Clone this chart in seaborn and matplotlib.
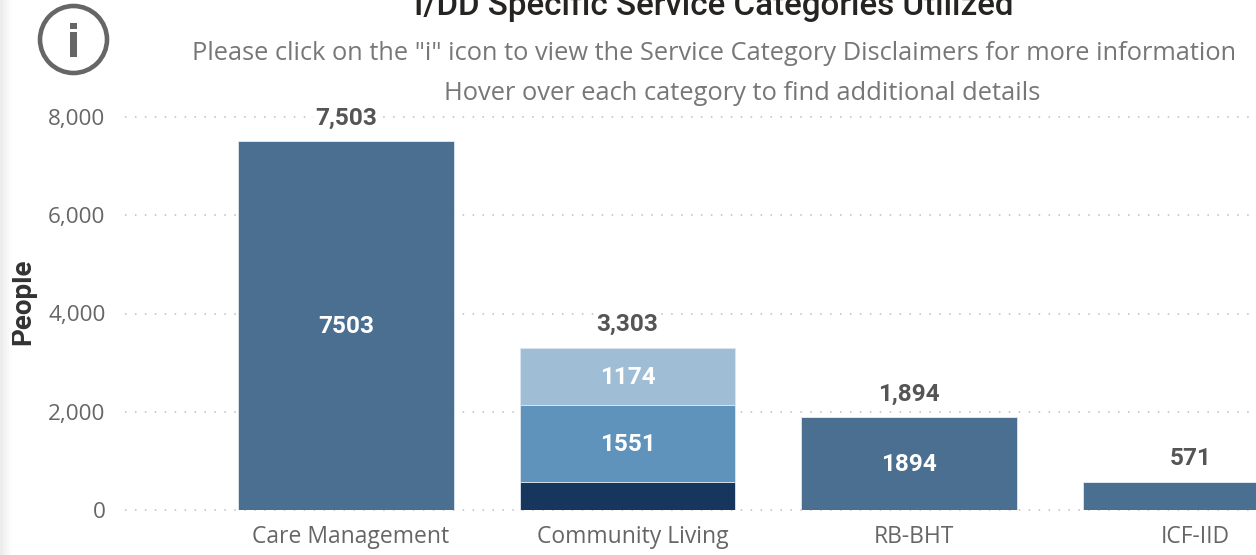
import matplotlib
matplotlib.use("Agg")
import matplotlib.pyplot as plt
from matplotlib.patches import Circle, Rectangle
from matplotlib.transforms import ScaledTranslation
import seaborn as sns

categories = ["Care Management", "Community Living", "RB-BHT", "ICF-IID"]
totals = [7503, 3303, 1894, 571]
seg_single = [7503, 0, 1894, 571]
seg_dark = [0, 578, 0, 0]
seg_mid = [0, 1551, 0, 0]
seg_light = [0, 1174, 0, 0]
yticks = [0, 2000, 4000, 6000, 8000]
title = "I/DD Specific Service Categories Utilized"
sub1 = 'Please click on the "i" icon to view the Service Category Disclaimers for more information'
sub2 = "Hover over each category to find additional details"

W, H = 1256, 555
sns.set_theme(style="white")
plt.rcParams["font.family"] = ["Open Sans", "DejaVu Sans"]
fig = plt.figure(figsize=(W / 100, H / 100), dpi=100)
fig.patch.set_facecolor("white")

L, R, T, B = 125, 1256, 117, 510
ax = fig.add_axes([L / W, 1 - B / H, (R - L) / W, (B - T) / H])
ax.patch.set_alpha(0)

C_SINGLE, C_DARK, C_MID, C_LIGHT = "#4A6F91", "#17365D", "#5F93BB", "#A0BDD6"
WIDTH = 0.767
bottom = [0, 0, 0, 0]
for vals, col in [(seg_single, C_SINGLE), (seg_dark, C_DARK), (seg_mid, C_MID), (seg_light, C_LIGHT)]:
    sns.barplot(x=categories, y=vals, order=categories, color=col, saturation=1,
                width=WIDTH, bottom=bottom, ax=ax, edgecolor="#DCE6EF", linewidth=0.6, zorder=3)
    for i, v in enumerate(vals):
        if v >= 1000:
            ax.annotate(str(v), (i, bottom[i] + v / 2), xytext=(0, -0.8), textcoords="offset points",
                        ha="center", va="center", color="white", fontsize=17.6,
                        fontweight="bold", family="Roboto", zorder=5)
    bottom = [b + v for b, v in zip(bottom, vals)]

ax.set_xlim((L - 346) / 281.5, (R - 346) / 281.5)
ax.set_ylim(0, 8000)
ax.set_yticks(yticks)
ax.set_yticklabels([f"{t:,}" for t in yticks])
ax.tick_params(axis="y", length=0, pad=14, labelsize=16.2, labelcolor="#666666")
ax.tick_params(axis="x", length=0, pad=10.7, labelsize=16.5, labelcolor="#666666")
shift = ScaledTranslation(5 / 100, 0, fig.dpi_scale_trans)
for lab in ax.get_xticklabels():
    lab.set_transform(lab.get_transform() + shift)
ax.grid(axis="y", color="#BDBDBD", linewidth=1.1, linestyle=(0, (1, 5.5)), zorder=0)
ax.set_axisbelow(True)
for s in ax.spines.values():
    s.set_visible(False)
for gl in ax.get_ygridlines():
    gl.set_clip_on(False)
ax.set_ylabel("")

for i, t in enumerate(totals):
    ax.annotate(f"{t:,}", (i, t), xytext=(0, 23 * 0.72), textcoords="offset points", ha="center", va="center",
                color="#555555", fontsize=17.6, fontweight="bold", family="Roboto", zorder=6,
                bbox=dict(facecolor="white", edgecolor="none", pad=1))

def px(x, y):
    return x / W, 1 - y / H

fig.text(*px(23, 302), "People", rotation=90, ha="center", va="center", color="#333333",
         fontsize=20, fontweight="bold", family="Roboto")
fig.text(*px(714, 6), title, ha="center", va="center", color="#252423", fontsize=23.9,
         fontweight="medium", family="Roboto")
fig.text(*px(714.5, 54), sub1, ha="center", va="center", color="#777777", fontsize=18.3)
fig.text(*px(742, 94), sub2, ha="center", va="center", color="#777777", fontsize=18.35)

ov = fig.add_axes([0, 0, 1, 1], zorder=10)
ov.set_xlim(0, W)
ov.set_ylim(H, 0)
ov.axis("off")
ov.patch.set_alpha(0)
ov.add_patch(Circle((73.5, 39.5), 33.5, fill=False, edgecolor="#666666", linewidth=3.3))
ov.add_patch(Rectangle((69.5, 32), 7, 25, facecolor="#666666", edgecolor="none"))
ov.add_patch(Rectangle((69.5, 23), 7, 6, facecolor="#666666", edgecolor="none"))
for x, c in [(0, "#ECECEC"), (3, "#F2F2F2"), (6, "#F7F7F7"), (9, "#FCFCFC")]:
    ov.add_patch(Rectangle((x, 0), 3, H, facecolor=c, edgecolor="none"))

fig.savefig("out.png", dpi=100)
